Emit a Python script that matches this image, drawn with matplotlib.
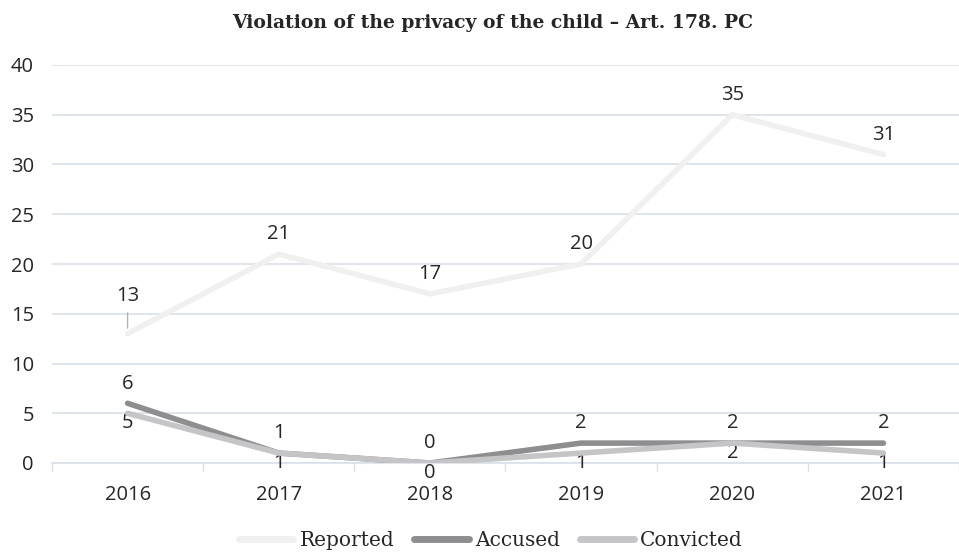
import matplotlib.pyplot as plt
import numpy as np

years = ["2016", "2017", "2018", "2019", "2020", "2021"]
reported = [13, 21, 17, 20, 35, 31]
accused = [6, 1, 0, 2, 2, 2]
convicted = [5, 1, 0, 1, 2, 1]

c_rep = "#f0f0f1"
c_acc = "#8e8e90"
c_con = "#c5c5c7"
grid_c = "#dadfe7"
txt_c = "#262626"

fig = plt.figure(figsize=(9.59, 5.56), dpi=100)
ax = fig.add_axes([52 / 959, 1 - 463 / 556, 1 - 52 / 959, (463 - 65) / 556])

x = np.arange(len(years))
ax.plot(x, reported, color=c_rep, lw=4, solid_capstyle="round", solid_joinstyle="round", label="Reported", zorder=3)
ax.plot(x, accused, color=c_acc, lw=4, solid_capstyle="round", solid_joinstyle="round", label="Accused", zorder=3)
ax.plot(x, convicted, color=c_con, lw=4, solid_capstyle="round", solid_joinstyle="round", label="Convicted", zorder=4)

lab_font = dict(family="Open Sans", fontsize=14.5, color=txt_c)

# data labels
for i, v in enumerate(reported):
    if i == 0:
        ax.annotate(str(v), (i, v), xytext=(0, 20), textcoords="offset points",
                    ha="center", va="bottom", **lab_font,
                    arrowprops=dict(arrowstyle="-", color="#a9b4c6", lw=1,
                                    shrinkA=3, shrinkB=4))
    else:
        ax.annotate(str(v), (i, v), xytext=(0, 7), textcoords="offset points",
                    ha="center", va="bottom", **lab_font)
for i, v in enumerate(accused):
    ax.annotate(str(v), (i, v), xytext=(0, 7), textcoords="offset points",
                ha="center", va="bottom", **lab_font)
for i, v in enumerate(convicted):
    ax.annotate(str(v), (i, v), xytext=(0, 0), textcoords="offset points",
                ha="center", va="top", **lab_font)

ax.set_xlim(-0.5, len(years) - 0.5)
ax.set_ylim(0, 40)
ax.set_yticks(range(0, 41, 5))
ax.set_xticks(x)
ax.set_xticklabels(years)
ax.set_xticks(np.arange(-0.5, len(years), 1), minor=True)
ax.tick_params(axis="x", which="major", length=0, pad=16)
ax.tick_params(axis="x", which="minor", length=6, color=grid_c, width=1)
ax.tick_params(axis="y", length=0, pad=13)
for lbl in ax.get_xticklabels() + ax.get_yticklabels():
    lbl.set_fontfamily("Open Sans")
    lbl.set_fontsize(14.5)
    lbl.set_color(txt_c)

ax.grid(axis="y", color=grid_c, lw=1.2)
ax.set_axisbelow(True)
for s in ["top", "right", "left"]:
    ax.spines[s].set_visible(False)
ax.spines["bottom"].set_color(grid_c)
ax.spines["bottom"].set_linewidth(1.2)

fig.text(0.514, 0.958, "Violation of the privacy of the child \u2013 Art. 178. PC",
         ha="center", va="center", family="DejaVu Serif", fontweight="bold",
         fontsize=13.5, color=txt_c)

leg = fig.legend(loc="center", bbox_to_anchor=(0.512, 0.027), ncol=3, frameon=False,
                 prop=dict(family="DejaVu Serif", size=14.5), handlelength=2.7,
                 handletextpad=0.3, columnspacing=1.0)
for t in leg.get_texts():
    t.set_color(txt_c)
for h in leg.get_lines():
    h.set_linewidth(5)

fig.savefig("out.png", dpi=100)
